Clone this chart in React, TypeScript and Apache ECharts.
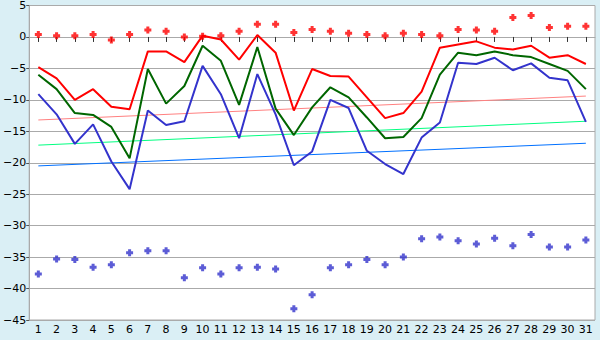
import React, { useEffect, useRef } from "react";
import * as echarts from "echarts";

const days = Array.from({ length: 31 }, (_, i) => String(i + 1));

const redDots = [0.4, 0.2, 0.2, 0.4, -0.5, 0.4, 1.1, 0.9, 0.0, 0.1, 0.2, 0.9, 2.0, 2.0, 0.7, 1.2, 0.9, 0.6, 0.4, 0.2, 0.6, 0.4, 0.2, 1.2, 1.1, 0.9, 3.1, 3.4, 1.5, 1.7, 1.7];
const redLine = [-4.8, -6.6, -10.0, -8.3, -11.1, -11.5, -2.3, -2.3, -4.0, 0.2, -0.4, -3.6, 0.3, -2.5, -11.7, -5.1, -6.2, -6.3, -9.6, -12.9, -12.1, -8.7, -1.7, -1.2, -0.7, -1.7, -2.0, -1.4, -3.3, -2.9, -4.3];
const greenLine = [-6.0, -8.3, -12.1, -12.4, -14.3, -19.3, -5.1, -10.6, -7.8, -1.4, -3.8, -10.8, -1.6, -11.4, -15.6, -11.2, -8.0, -9.6, -12.8, -16.1, -15.9, -12.9, -6.0, -2.5, -2.9, -2.3, -2.9, -3.2, -4.3, -5.4, -8.3];
const blueLine = [-9.1, -12.3, -17.0, -13.9, -19.8, -24.2, -11.7, -14.0, -13.4, -4.6, -9.1, -16.1, -5.9, -12.3, -20.4, -18.2, -10.0, -11.3, -18.1, -20.2, -21.8, -16.0, -13.6, -4.1, -4.3, -3.3, -5.3, -4.2, -6.5, -6.9, -13.5];
const blueDots = [-37.7, -35.3, -35.4, -36.6, -36.2, -34.3, -34.0, -34.0, -38.3, -36.7, -37.7, -36.7, -36.6, -36.9, -43.2, -41.0, -36.7, -36.2, -35.4, -36.2, -35.0, -32.1, -31.8, -32.4, -32.9, -32.0, -33.2, -31.4, -33.4, -33.4, -32.3];

// linear trend lines: value at first day, value at last day
const trendRed = [-13.2, -9.4];
const trendGreen = [-17.2, -13.4];
const trendBlue = [-20.5, -16.9];

const yTicks = { min: -45, max: 5, interval: 5 };

const plusPath = "path://M2,0 L5,0 L5,2 L7,2 L7,5 L5,5 L5,7 L2,7 L2,5 L0,5 L0,2 L2,2 Z";

function trendData(t: number[]) {
  return [[0, t[0]], [days.length - 1, t[1]]];
}

export default function App() {
  const ref = useRef<HTMLDivElement>(null);
  useEffect(() => {
    const chart = echarts.init(ref.current!, null, { renderer: "svg" });
    const font = "DejaVu Sans";
    chart.setOption({
      animation: false,
      backgroundColor: "#daeff5",
      grid: { left: 26, right: 5, top: 5, bottom: 20, show: true, backgroundColor: "#ffffff", borderColor: "#aaaaaa", borderWidth: 1 },
      xAxis: {
        type: "category",
        data: days,
        boundaryGap: true,
        axisLine: { lineStyle: { color: "#aaaaaa" } },
        axisTick: { show: true, alignWithLabel: true, length: 5, lineStyle: { color: "#333333" } },
        axisLabel: { color: "#000", fontFamily: font, fontSize: 11, margin: 4, interval: 0 },
        splitLine: { show: false },
      },
      yAxis: {
        type: "value",
        min: yTicks.min,
        max: yTicks.max,
        interval: yTicks.interval,
        axisLine: { show: true, lineStyle: { color: "#aaaaaa" } },
        axisTick: { show: true, length: 3, lineStyle: { color: "#555555" } },
        axisLabel: {
          color: "#000",
          fontFamily: font,
          fontSize: 11,
          margin: 3,
          formatter: (v: number) => (v < 0 ? "\u2212" + Math.abs(v) : String(v)),
        },
        splitLine: { show: true, lineStyle: { color: "#aaaaaa", width: 1 } },
      },
      series: [
        { type: "line", data: trendData(trendRed), symbol: "none", lineStyle: { color: "#ff8080", width: 1 }, z: 1 },
        { type: "line", data: trendData(trendGreen), symbol: "none", lineStyle: { color: "#00ff80", width: 1 }, z: 1 },
        { type: "line", data: trendData(trendBlue), symbol: "none", lineStyle: { color: "#0070ff", width: 1 }, z: 1 },
        { type: "line", data: redLine, symbol: "none", lineStyle: { color: "#ff0000", width: 2 }, z: 3 },
        { type: "line", data: greenLine, symbol: "none", lineStyle: { color: "#006600", width: 2 }, z: 3 },
        { type: "line", data: blueLine, symbol: "none", lineStyle: { color: "#3333cc", width: 2 }, z: 3 },
        { type: "scatter", data: redDots, symbol: plusPath, symbolSize: 7, itemStyle: { color: "#ff0000" }, z: 4 },
        { type: "scatter", data: blueDots, symbol: plusPath, symbolSize: 7, itemStyle: { color: "#3333cc" }, z: 4 },
      ],
    });
    return () => chart.dispose();
  }, []);
  return <div ref={ref} style={{ width: 600, height: 340, position: "absolute", left: 0, top: 0 }} />;
}
